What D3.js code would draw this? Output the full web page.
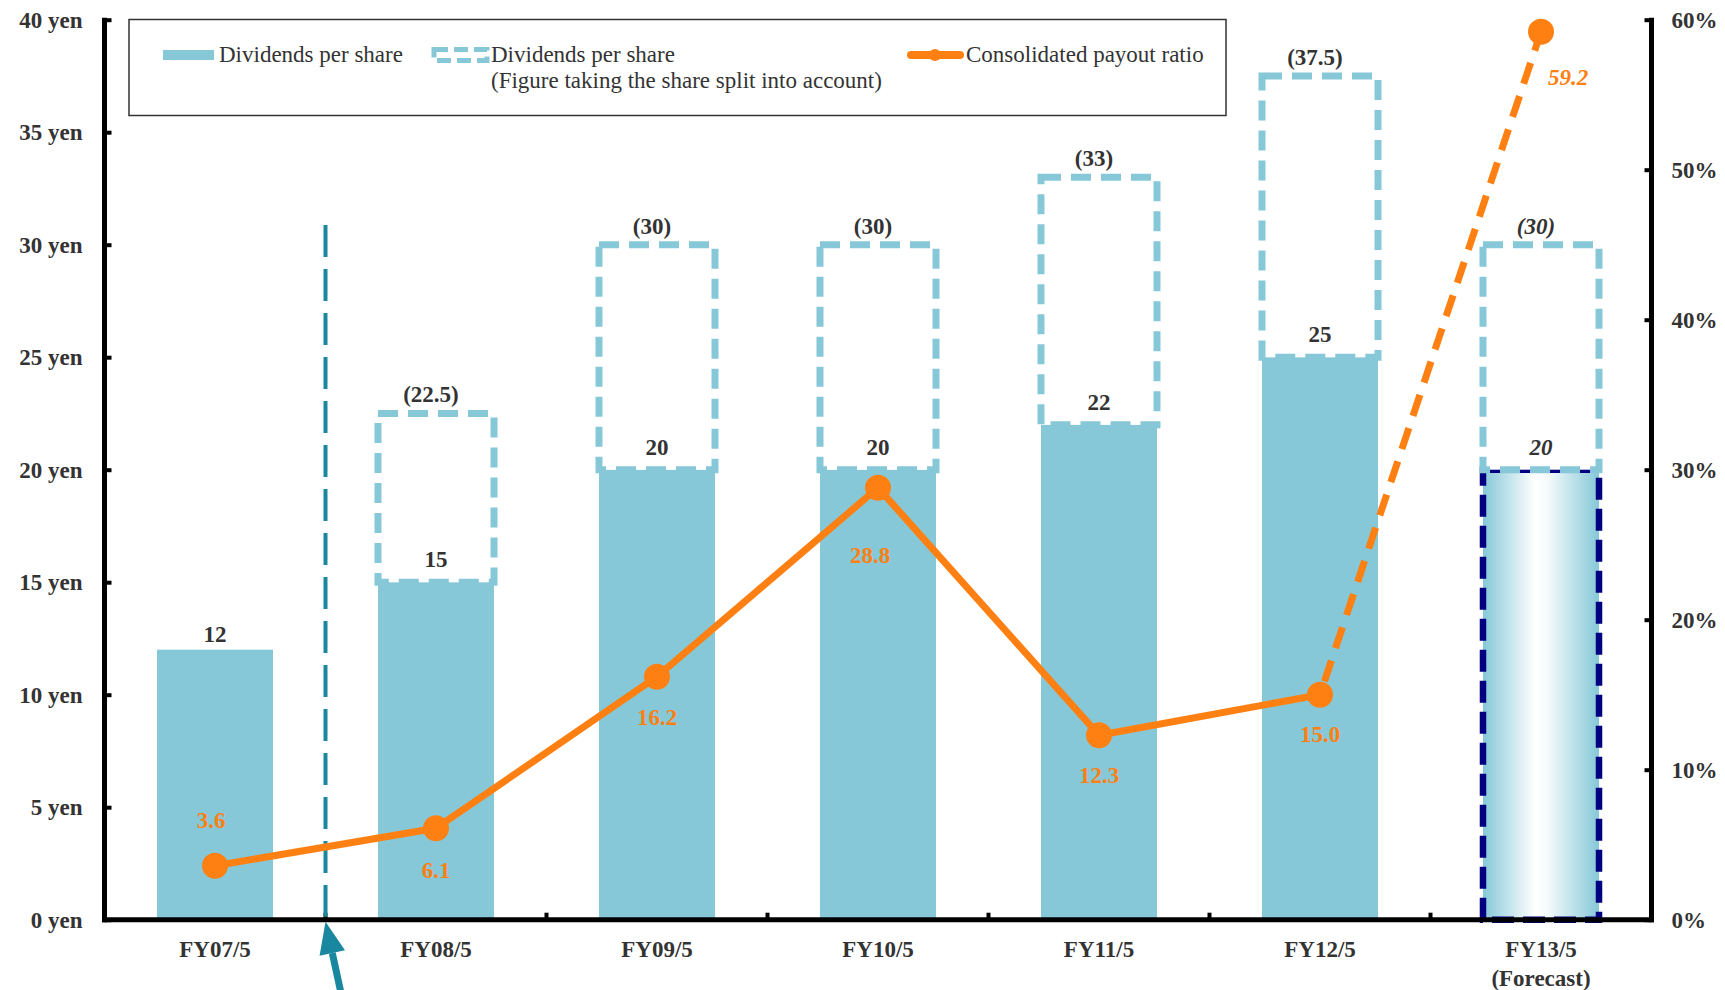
<!DOCTYPE html>
<html>
<head>
<meta charset="utf-8">
<script src="https://cdn.jsdelivr.net/npm/d3@7"></script>
<style>
  html, body { margin: 0; padding: 0; background: #fff; }
  svg { display: block; }
  text { font-family: "Liberation Serif", "Times New Roman", serif; }
</style>
</head>
<body>
<script>
// Dividend history: per-share dividends, split-adjusted equivalents and payout ratio
const categories = ["FY07/5", "FY08/5", "FY09/5", "FY10/5", "FY11/5", "FY12/5", "FY13/5"];
const categoryNotes = ["", "", "", "", "", "", "(Forecast)"];
const dividends = [12, 15, 20, 20, 22, 25, 20];
const splitAdjusted = [null, 22.5, 30, 30, 33, 37.5, 30];
const payoutRatio = [3.6, 6.1, 16.2, 28.8, 12.3, 15.0, 59.2];
const yenTicks = [0, 5, 10, 15, 20, 25, 30, 35, 40];
const pctTicks = [0, 10, 20, 30, 40, 50, 60];
const forecastIndex = 6;
const splitBoundaryIndex = 1;

const W = 1725, H = 990;
const plot = { left: 104.5, right: 1651.5, top: 19.7, bottom: 919.7 };

const teal = "#86C8D8";
const tealDark = "#1A87A0";
const orange = "#FF8012";
const navy = "#000080";
const ink = "#333333";

const svg = d3.select("body").append("svg").attr("width", W).attr("height", H);

const defs = svg.append("defs");
const grad = defs.append("linearGradient").attr("id", "forecastFill")
  .attr("x1", "0%").attr("x2", "100%").attr("y1", "0%").attr("y2", "0%");
grad.append("stop").attr("offset", "0%").attr("stop-color", teal);
grad.append("stop").attr("offset", "45%").attr("stop-color", "#ffffff");
grad.append("stop").attr("offset", "55%").attr("stop-color", "#f6fbfc");
grad.append("stop").attr("offset", "100%").attr("stop-color", teal);

const x = d3.scaleBand().domain(categories).range([plot.left, plot.right])
  .paddingInner(0.475).paddingOuter(0.2375);
const bw = x.bandwidth();
const step = x.step();
const cx = c => x(c) + bw / 2;

const y = d3.scaleLinear().domain([0, 40]).range([plot.bottom, plot.top]);
const y2 = d3.scaleLinear().domain([0, 60]).range([plot.bottom, plot.top]);

// ---- Bars ----
const barG = svg.append("g");
categories.forEach((c, i) => {
  if (i === forecastIndex) {
    barG.append("rect")
      .attr("x", x(c)).attr("y", y(dividends[i]))
      .attr("width", bw).attr("height", y(0) - y(dividends[i]))
      .attr("fill", "url(#forecastFill)")
      .attr("stroke", navy).attr("stroke-width", 6.5)
      .attr("stroke-dasharray", "22 9");
  } else {
    barG.append("rect")
      .attr("x", x(c)).attr("y", y(dividends[i]))
      .attr("width", bw).attr("height", y(0) - y(dividends[i]))
      .attr("fill", teal);
  }
});

// Split-adjusted equivalents as dashed boxes stacked on the bars
categories.forEach((c, i) => {
  const v = splitAdjusted[i];
  if (v == null) return;
  barG.append("rect")
    .attr("x", x(c)).attr("y", y(v))
    .attr("width", bw).attr("height", y(dividends[i]) - y(v))
    .attr("fill", "#fff")
    .attr("stroke", teal).attr("stroke-width", 7)
    .attr("stroke-dasharray", "20 10");
});

// ---- Axes ----
const axisG = svg.append("g");
const axisLeft = d3.axisLeft(y).tickValues(yenTicks).tickSize(-5).tickFormat(d => d + " yen");
const gl = axisG.append("g").attr("transform", `translate(${plot.left},0)`).call(axisLeft);
gl.select(".domain").attr("stroke", "#000").attr("stroke-width", 5)
  .attr("d", `M0,${plot.top - 2}V${plot.bottom + 2.5}`);
gl.selectAll(".tick line").attr("stroke", "#000").attr("stroke-width", 4)
  .attr("x1", 0).attr("x2", 7);
gl.selectAll(".tick text").attr("x", -22).attr("dy", "0.32em")
  .attr("font-size", 23).attr("font-weight", "bold").attr("fill", ink)
  .style("font-family", '"Liberation Serif", serif');

const axisRight = d3.axisRight(y2).tickValues(pctTicks).tickSize(-5).tickFormat(d => d + "%");
const gr = axisG.append("g").attr("transform", `translate(${plot.right},0)`).call(axisRight);
gr.select(".domain").attr("stroke", "#000").attr("stroke-width", 5)
  .attr("d", `M0,${plot.top - 2}V${plot.bottom + 2.5}`);
gr.selectAll(".tick line").attr("stroke", "#000").attr("stroke-width", 4)
  .attr("x1", 0).attr("x2", -7);
gr.selectAll(".tick text").attr("x", 20).attr("dy", "0.32em")
  .attr("font-size", 23).attr("font-weight", "bold").attr("fill", ink)
  .style("font-family", '"Liberation Serif", serif');

// Bottom axis with ticks at the category boundaries
axisG.append("line")
  .attr("x1", plot.left - 2.5).attr("x2", plot.right + 2.5)
  .attr("y1", plot.bottom).attr("y2", plot.bottom)
  .attr("stroke", "#000").attr("stroke-width", 5);
d3.range(1, categories.length).forEach(k => {
  const bx = plot.left + k * step;
  axisG.append("line").attr("x1", bx).attr("x2", bx)
    .attr("y1", plot.bottom).attr("y2", plot.bottom - 7)
    .attr("stroke", "#000").attr("stroke-width", 4);
});
categories.forEach((c, i) => {
  axisG.append("text").attr("x", cx(c)).attr("y", 957)
    .attr("text-anchor", "middle").attr("font-size", 23).attr("font-weight", "bold")
    .attr("fill", ink).text(c);
  if (categoryNotes[i]) {
    axisG.append("text").attr("x", cx(c)).attr("y", 986)
      .attr("text-anchor", "middle").attr("font-size", 23).attr("font-weight", "bold")
      .attr("fill", ink).text(categoryNotes[i]);
  }
});

// ---- Share split marker ----
const splitX = plot.left + splitBoundaryIndex * step;
svg.append("line")
  .attr("x1", splitX).attr("x2", splitX)
  .attr("y1", 225).attr("y2", plot.bottom - 3)
  .attr("stroke", tealDark).attr("stroke-width", 4)
  .attr("stroke-dasharray", "32 12");

const tip = [splitX, plot.bottom + 2];
const tail = [splitX + 17, H + 10];
const ang = Math.atan2(tail[1] - tip[1], tail[0] - tip[0]);
const headLen = 32, headHalf = 13;
const baseC = [tip[0] + headLen * Math.cos(ang), tip[1] + headLen * Math.sin(ang)];
const px = -Math.sin(ang), py = Math.cos(ang);
svg.append("line")
  .attr("x1", baseC[0]).attr("y1", baseC[1]).attr("x2", tail[0]).attr("y2", tail[1])
  .attr("stroke", tealDark).attr("stroke-width", 7);
svg.append("path")
  .attr("d", d3.line()([tip,
    [baseC[0] + px * headHalf, baseC[1] + py * headHalf],
    [baseC[0] - px * headHalf, baseC[1] - py * headHalf]]) + "Z")
  .attr("fill", tealDark);

// ---- Bar value labels ----
const labelG = svg.append("g");
categories.forEach((c, i) => {
  const italic = i === forecastIndex;
  labelG.append("text")
    .attr("x", cx(c)).attr("y", y(dividends[i]) - (splitAdjusted[i] == null ? 8 : 15))
    .attr("text-anchor", "middle").attr("font-size", 23).attr("font-weight", "bold")
    .attr("font-style", italic ? "italic" : "normal")
    .attr("fill", ink).text(dividends[i]);
  if (splitAdjusted[i] != null) {
    labelG.append("text")
      .attr("x", cx(c) - 5).attr("y", y(splitAdjusted[i]) - 11)
      .attr("text-anchor", "middle").attr("font-size", 23).attr("font-weight", "bold")
      .attr("font-style", italic ? "italic" : "normal")
      .attr("fill", ink).text("(" + splitAdjusted[i] + ")");
  }
});

// ---- Payout ratio line ----
const pts = categories.map((c, i) => [cx(c), y2(payoutRatio[i])]);
const line = d3.line();
svg.append("path").attr("d", line(pts.slice(0, forecastIndex)))
  .attr("fill", "none").attr("stroke", orange).attr("stroke-width", 7)
  .attr("stroke-linejoin", "round");
svg.append("path").attr("d", line(pts.slice(forecastIndex - 1)))
  .attr("fill", "none").attr("stroke", orange).attr("stroke-width", 7)
  .attr("stroke-dasharray", "22 13").attr("stroke-dashoffset", -14);
svg.append("g").selectAll("circle").data(pts).join("circle")
  .attr("cx", d => d[0]).attr("cy", d => d[1]).attr("r", 13).attr("fill", orange);

// Ratio labels: [dx, dy] relative to each point
const ratioLabelOffset = [[-4, -38], [0, 50], [0, 48], [-8, 75], [0, 48], [0, 47], [7, 53]];
payoutRatio.forEach((v, i) => {
  const [dx, dy] = ratioLabelOffset[i];
  const last = i === forecastIndex;
  svg.append("text")
    .attr("x", pts[i][0] + dx).attr("y", pts[i][1] + dy)
    .attr("text-anchor", last ? "start" : "middle")
    .attr("font-size", 23).attr("font-weight", "bold")
    .attr("font-style", last ? "italic" : "normal")
    .attr("fill", orange).text(v.toFixed(1));
});

// ---- Legend ----
const lg = svg.append("g");
lg.append("rect").attr("x", 129).attr("y", 19.5).attr("width", 1097).attr("height", 96)
  .attr("fill", "#fff").attr("stroke", "#333").attr("stroke-width", 1.5);
lg.append("rect").attr("x", 163).attr("y", 50).attr("width", 51).attr("height", 10).attr("fill", teal);
lg.append("text").attr("x", 219).attr("y", 62).attr("font-size", 23).attr("fill", ink)
  .text("Dividends per share");
lg.append("rect").attr("x", 434).attr("y", 49.5).attr("width", 53).attr("height", 11)
  .attr("fill", "none").attr("stroke", teal).attr("stroke-width", 5)
  .attr("stroke-dasharray", "14 6");
lg.append("text").attr("x", 491).attr("y", 62).attr("font-size", 23).attr("fill", ink)
  .text("Dividends per share");
lg.append("text").attr("x", 491).attr("y", 88).attr("font-size", 23).attr("fill", ink)
  .text("(Figure taking the share split into account)");
lg.append("line").attr("x1", 911).attr("x2", 960).attr("y1", 55).attr("y2", 55)
  .attr("stroke", orange).attr("stroke-width", 8).attr("stroke-linecap", "round");
lg.append("circle").attr("cx", 935).attr("cy", 55).attr("r", 6).attr("fill", orange);
lg.append("text").attr("x", 966).attr("y", 62).attr("font-size", 23).attr("fill", ink)
  .text("Consolidated payout ratio");
</script>
</body>
</html>
